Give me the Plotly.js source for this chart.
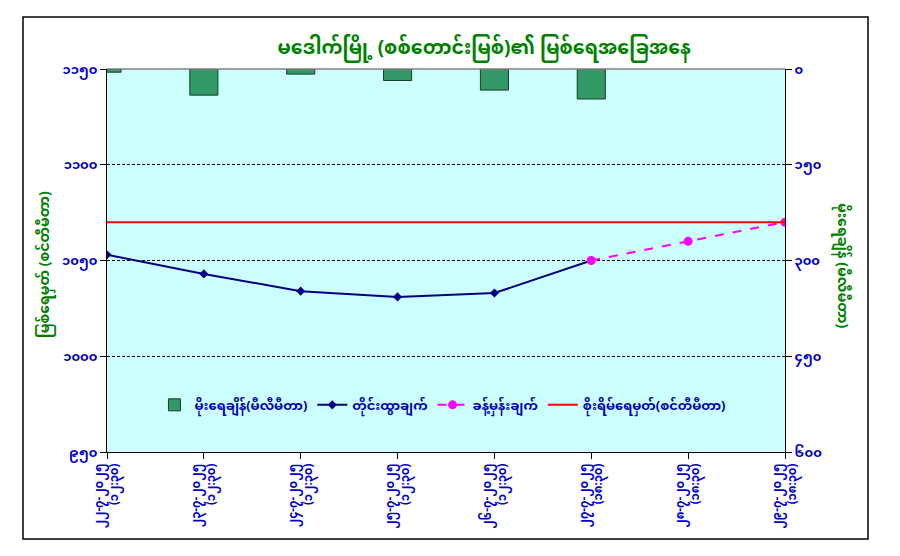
<!DOCTYPE html>
<html>
<head>
<meta charset="utf-8">
<script src="https://cdn.plot.ly/plotly-3.0.1.min.js"></script>
<style>
  body { margin: 0; background: #fff; }
  #chart_area { width: 900px; height: 556px; }
</style>
</head>
<body>
<div id="chart_area"></div>
<script>
// categories (date + time of reading)
var dates = ['၂၂-၇-၂၀၂၅', '၂၃-၇-၂၀၂၅', '၂၄-၇-၂၀၂၅', '၂၅-၇-၂၀၂၅',
             '၂၆-၇-၂၀၂၅', '၂၇-၇-၂၀၂၅', '၂၈-၇-၂၀၂၅', '၂၉-၇-၂၀၂၅'];
var times = ['(၁၂:၃၀)', '(၁၂:၃၀)', '(၁၂:၃၀)', '(၁၂:၃၀)',
             '(၁၂:၃၀)', '(၁၈:၃၀)', '(၁၈:၃၀)', '(၁၈:၃၀)'];

// series values
var rainfall = [5, 41, 8, 18, 33, 47, null, null];            // mm, right axis
var observed = [1053, 1043, 1034, 1031, 1033, 1050, null, null]; // cm
var forecast = [null, null, null, null, null, 1050, 1060, 1070]; // cm
var danger = [1070, 1070, 1070, 1070, 1070, 1070, 1070, 1070];   // cm

// tick labels (Myanmar digits)
var leftTickVals = [950, 1000, 1050, 1100, 1150];
var leftTickText = ['၉၅၀', '၁၀၀၀', '၁၀၅၀', '၁၁၀၀', '၁၁၅၀'];
var rightTickVals = [0, 150, 300, 450, 600];
var rightTickText = ['၀', '၁၅၀', '၃၀၀', '၄၅၀', '၆၀၀'];

var mmFont = 'Noto Sans Myanmar, Noto Sans, sans-serif';
var blue = '#0000CC';
var green = '#008000';

var xLabels = dates.map(function (d, i) { return d + '<br>' + times[i]; });

var data = [
    {
        x: dates,
        y: rainfall,
        yaxis: 'y2',
        type: 'bar',
        width: 0.29,
        name: 'မိုးရေချိန်(မီလီမီတာ)',
        hoverinfo: 'none',
        marker: { color: '#339966', line: { color: '#1a3d2a', width: 1 } }
    },
    {
        x: dates,
        y: observed,
        type: 'scatter',
        mode: 'lines+markers',
        name: 'တိုင်းထွာချက်',
        hoverinfo: 'none',
        line: { color: '#000080', width: 2 },
        marker: { symbol: 'diamond', size: 7, color: '#000080' }
    },
    {
        x: dates,
        y: forecast,
        type: 'scatter',
        mode: 'lines+markers',
        name: 'ခန့်မှန်းချက်',
        hoverinfo: 'none',
        line: { color: '#FF00FF', width: 2, dash: 'dash' },
        marker: { symbol: 'circle', size: 9, color: '#FF00FF' }
    },
    {
        x: dates,
        y: danger,
        type: 'scatter',
        mode: 'lines',
        name: 'စိုးရိမ်ရေမှတ်(စင်တီမီတာ)',
        hoverinfo: 'none',
        line: { color: '#FF0000', width: 2 }
    }
];

var layout = {
    width: 900,
    height: 556,
    margin: { l: 107, r: 115, t: 69, b: 104 },
    paper_bgcolor: '#ffffff',
    plot_bgcolor: '#CCFFFF',
    font: { family: mmFont, color: blue, size: 12 },
    title: {
        text: 'မဒေါက်မြို့ (စစ်တောင်းမြစ်)၏ မြစ်ရေအခြေအနေ',
        font: { family: mmFont, size: 19, color: green, weight: 'bold' },
        xref: 'container', x: 0.538, xanchor: 'center',
        yref: 'container', y: 0.915, yanchor: 'middle'
    },
    xaxis: {
        type: 'category',
        range: [0, 7],
        tickvals: dates,
        ticktext: xLabels,
        tickangle: -90,
        ticks: 'outside',
        ticklen: 6,
        tickcolor: '#000',
        showline: true,
        linecolor: '#000',
        linewidth: 1,
        showgrid: false,
        zeroline: false,
        tickfont: { family: mmFont, size: 11.5, color: blue, weight: 'bold' }
    },
    yaxis: {
        range: [950, 1150],
        tickvals: leftTickVals,
        ticktext: leftTickText,
        ticks: 'outside',
        ticklen: 6,
        tickcolor: '#000',
        showline: true,
        linecolor: '#000',
        linewidth: 1,
        showgrid: true,
        gridcolor: '#000',
        griddash: '3px,2px',
        gridwidth: 1,
        zeroline: false,
        tickfont: { family: mmFont, size: 13, color: blue, weight: 'bold' }
    },
    yaxis2: {
        overlaying: 'y',
        side: 'right',
        range: [600, 0],
        tickvals: rightTickVals,
        ticktext: rightTickText,
        ticks: 'outside',
        ticklen: 6,
        tickcolor: '#000',
        showline: true,
        linecolor: '#000',
        linewidth: 1,
        showgrid: false,
        zeroline: false,
        tickfont: { family: mmFont, size: 13, color: blue, weight: 'bold' }
    },
    showlegend: true,
    legend: {
        orientation: 'h',
        x: 0.07, xanchor: 'left',
        y: 0.123, yanchor: 'middle',
        bgcolor: 'rgba(0,0,0,0)',
        font: { family: mmFont, size: 13, color: '#0000AA', weight: 'bold' }
    },
    annotations: [
        {
            text: 'မြစ်ရေမှတ် (စင်တီမီတာ)',
            xref: 'paper', yref: 'paper',
            x: (45 - 107) / 678, y: (452 - 265) / 383,
            xanchor: 'center', yanchor: 'middle',
            showarrow: false, textangle: -90,
            font: { family: mmFont, size: 14, color: green, weight: 'bold' }
        },
        {
            text: 'မိုးရေချိန် (မီလီမီတာ)',
            xref: 'paper', yref: 'paper',
            x: (842 - 107) / 678, y: (452 - 265) / 383,
            xanchor: 'center', yanchor: 'middle',
            showarrow: false, textangle: 90,
            font: { family: mmFont, size: 14, color: green, weight: 'bold' }
        }
    ],
    shapes: [
        // outer chart frame
        {
            type: 'rect', xref: 'paper', yref: 'paper',
            x0: (23 - 107) / 678, x1: (868 - 107) / 678,
            y0: (452 - 539) / 383, y1: (452 - 17) / 383,
            line: { color: '#000', width: 1.5 }
        },
        // grey top border of the plot area
        {
            type: 'line', xref: 'paper', yref: 'paper',
            x0: 0, x1: 1, y0: 1, y1: 1,
            line: { color: '#808080', width: 1.5 }
        }
    ]
};

var config = {
    displayModeBar: false,
    staticPlot: true,
    responsive: false
};

Plotly.newPlot('chart_area', data, layout, config);
</script>
</body>
</html>
